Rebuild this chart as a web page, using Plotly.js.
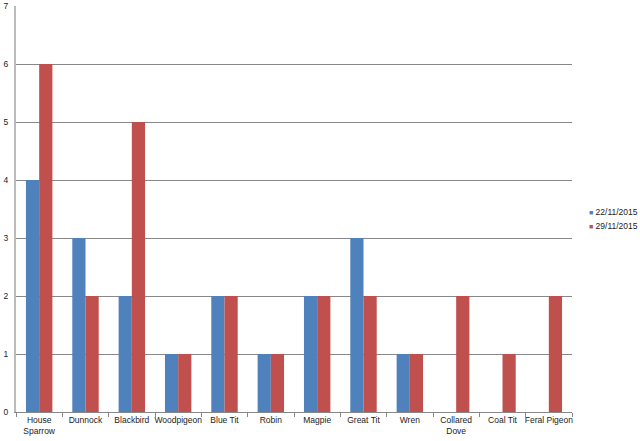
<!DOCTYPE html>
<html>
<head>
<meta charset="utf-8">
<script src="https://cdn.plot.ly/plotly-3.0.1.min.js"></script>
<style>
  html, body { margin: 0; padding: 0; background: #fff; }
  #chart { width: 640px; height: 441px; }
</style>
</head>
<body>
<div id="chart"></div>
<script>
// birds counted on each date
const birds = ['House<br>Sparrow', 'Dunnock', 'Blackbird', 'Woodpigeon', 'Blue Tit', 'Robin',
  'Magpie', 'Great Tit', 'Wren', 'Collared<br>Dove', 'Coal Tit', 'Feral Pigeon'];
const count22 = [4, 3, 2, 1, 2, 1, 2, 3, 1, 0, 0, 0];
const count29 = [6, 2, 5, 1, 2, 1, 2, 2, 1, 2, 1, 2];
const seriesNames = ['22/11/2015', '29/11/2015'];
const seriesColors = ['#4F81BD', '#C0504D'];
const yTicks = [0, 1, 2, 3, 4, 5, 6, 7];

const traces = [
  {
    x: birds, y: count22, name: seriesNames[0], type: 'bar',
    marker: { color: seriesColors[0], line: { width: 0 } },
  },
  {
    x: birds, y: count29, name: seriesNames[1], type: 'bar',
    marker: { color: seriesColors[1], line: { width: 0 } },
  },
];

// Excel style legend: small square right next to the text, tight rows
const legendItems = seriesNames.map((name, i) => ({
  xref: 'paper', yref: 'paper',
  x: 1.027, y: 0.493 - i * 0.0345,
  xanchor: 'left', yanchor: 'middle',
  showarrow: false,
  align: 'left',
  font: { size: 8.5, color: '#222' },
  text: `<span style="color:${seriesColors[i]};font-size:7px">■</span> ${name}`,
}));

const layout = {
  width: 640,
  height: 441,
  margin: { l: 16, r: 68, t: 6, b: 29, autoexpand: false },
  paper_bgcolor: '#fff',
  plot_bgcolor: '#fff',
  font: { family: 'Liberation Sans, Arial, sans-serif', size: 8, color: '#222' },
  barmode: 'group',
  bargap: 0.43,
  bargroupgap: 0,
  showlegend: false,
  annotations: legendItems,
  xaxis: {
    type: 'category',
    tickson: 'boundaries',
    ticks: 'outside',
    ticklen: 4,
    tickcolor: '#888',
    tickangle: 0,
    showline: true,
    linecolor: '#888',
    linewidth: 1,
    showgrid: false,
    tickfont: { size: 8.5, color: '#222' },
    fixedrange: true,
  },
  yaxis: {
    range: [0, 7],
    tickvals: yTicks,
    ticks: '',
    showline: true,
    linecolor: '#bbb',
    linewidth: 2,
    gridcolor: '#888',
    gridwidth: 1,
    zeroline: false,
    tickfont: { size: 8.5, color: '#222' },
    ticklabelstandoff: 4,
    fixedrange: true,
  },
};

Plotly.newPlot('chart', traces, layout, { displayModeBar: false, staticPlot: true });
</script>
</body>
</html>
